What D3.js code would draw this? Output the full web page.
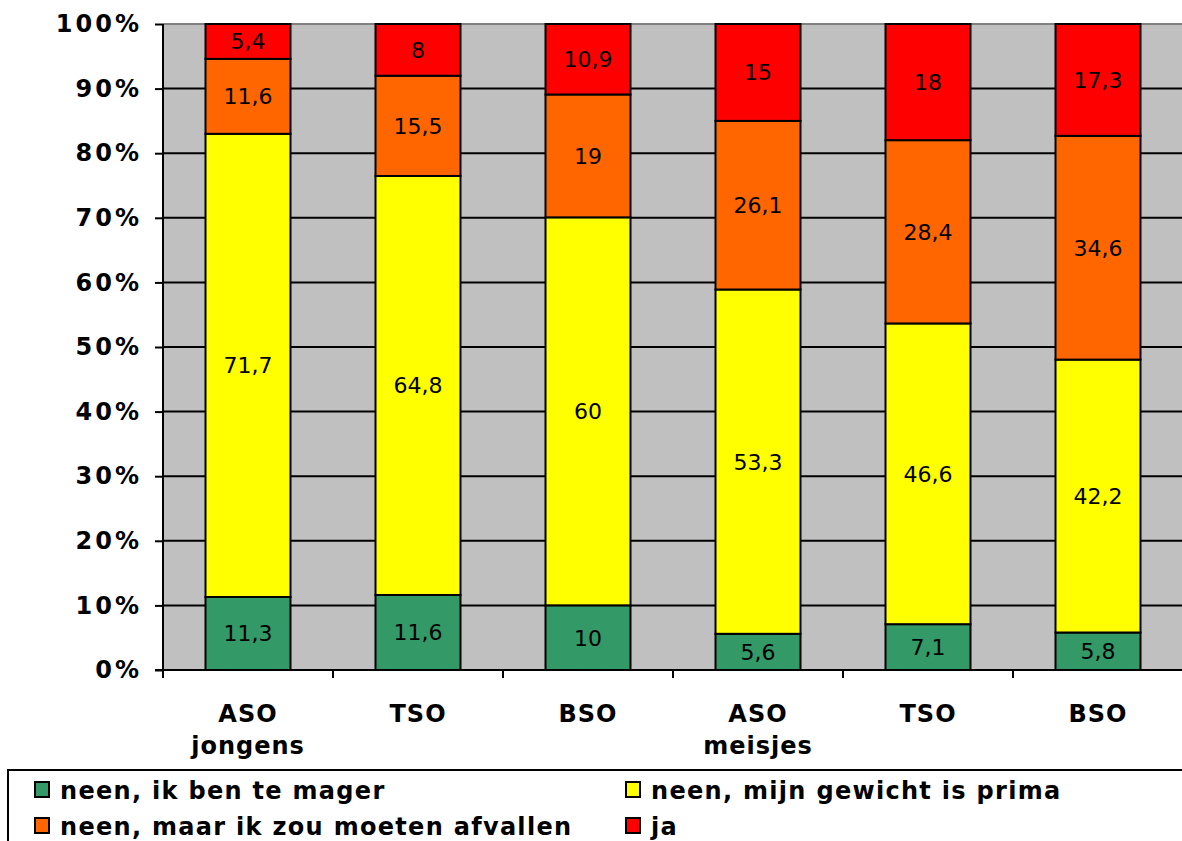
<!DOCTYPE html>
<html>
<head>
<meta charset="utf-8">
<script src="https://cdn.jsdelivr.net/npm/d3@7"></script>
<style>
  html, body { margin: 0; padding: 0; background: #fff; }
  svg { display: block; }
  text { font-family: "DejaVu Sans", Verdana, sans-serif; }
</style>
</head>
<body>
<svg id="chart" width="1182" height="841"></svg>
<script>
// School type per group, with the second line naming the group
const categories = ["ASO jongens", "TSO j", "BSO j", "ASO meisjes", "TSO m", "BSO m"];
const categoryLines = [["ASO", "jongens"], ["TSO"], ["BSO"], ["ASO", "meisjes"], ["TSO"], ["BSO"]];

// Answers (percent of pupils) to "Vind je dat je moet afvallen?"
const seriesNames = ["neen, ik ben te mager", "neen, mijn gewicht is prima", "neen, maar ik zou moeten afvallen", "ja"];
const teMager   = [11.3, 11.6, 10, 5.6, 7.1, 5.8];
const prima     = [71.7, 64.8, 60, 53.3, 46.6, 42.2];
const afvallen  = [11.6, 15.5, 19, 26.1, 28.4, 34.6];
const ja        = [5.4, 8, 10.9, 15, 18, 17.3];
const yTicks    = [0, 10, 20, 30, 40, 50, 60, 70, 80, 90, 100];

const colors = ["#339966", "#FFFF00", "#FF6600", "#FF0000"];
const seriesValues = [teMager, prima, afvallen, ja];

const svg = d3.select("#chart");
const plot = { left: 163, top: 24, right: 1183, bottom: 670 };

// Rows normalised to 100% (stacked percentage columns)
const rows = categories.map((c, i) => {
  const row = { cat: c };
  const total = d3.sum(seriesValues, s => s[i]);
  seriesValues.forEach((s, k) => { row["s" + k] = s[i] / total * 100; row["v" + k] = s[i]; });
  return row;
});
const keys = seriesValues.map((s, k) => "s" + k);
const stacked = d3.stack().keys(keys)(rows);

const x = d3.scaleBand().domain(categories).range([plot.left, plot.right]).paddingInner(0.5).paddingOuter(0.25);
const y = d3.scaleLinear().domain([0, 100]).range([plot.bottom, plot.top]);

// Plot background
svg.append("rect")
  .attr("x", plot.left).attr("y", plot.top)
  .attr("width", plot.right - plot.left).attr("height", plot.bottom - plot.top)
  .attr("fill", "#C0C0C0");

// Horizontal gridlines
svg.append("g").selectAll("line")
  .data(yTicks.filter(t => t > 0 && t < 100))
  .join("line")
  .attr("x1", plot.left).attr("x2", plot.right)
  .attr("y1", d => y(d)).attr("y2", d => y(d))
  .attr("stroke", "#000").attr("stroke-width", 2);

// Top border of plot area
svg.append("line")
  .attr("x1", plot.left).attr("x2", plot.right)
  .attr("y1", plot.top).attr("y2", plot.top)
  .attr("stroke", "#808080").attr("stroke-width", 2);

// Stacked columns
const layers = svg.append("g").selectAll("g")
  .data(stacked)
  .join("g")
  .attr("fill", (d, i) => colors[i]);

layers.selectAll("rect")
  .data(d => d)
  .join("rect")
  .attr("x", d => x(d.data.cat))
  .attr("width", x.bandwidth())
  .attr("y", d => y(d[1]))
  .attr("height", d => y(d[0]) - y(d[1]))
  .attr("stroke", "#000")
  .attr("stroke-width", 2);

// Value labels in the segments
const fmt = v => String(v).replace(".", ",");
stacked.forEach((layer, k) => {
  svg.append("g").selectAll("text")
    .data(layer)
    .join("text")
    .attr("x", d => x(d.data.cat) + x.bandwidth() / 2)
    .attr("y", d => (y(d[0]) + y(d[1])) / 2)
    .attr("dy", "0.36em")
    .attr("text-anchor", "middle")
    .attr("font-size", 22)
    .attr("fill", "#000")
    .text(d => fmt(d.data["v" + k]));
});

// Y axis
const yAxis = svg.append("g")
  .attr("transform", `translate(${plot.left},0)`)
  .call(d3.axisLeft(y).tickValues(yTicks).tickSize(8).tickPadding(13).tickFormat(d => d + "%"));
yAxis.select(".domain").attr("stroke", "#000").attr("stroke-width", 2).attr("d", `M0,${plot.top}V${plot.bottom}`);
yAxis.selectAll(".tick line").attr("stroke", "#000").attr("stroke-width", 2);
yAxis.selectAll(".tick text")
  .attr("font-family", "'DejaVu Sans', Verdana, sans-serif")
  .attr("font-size", 24).attr("font-weight", "bold").attr("fill", "#000")
  .attr("letter-spacing", 3);

// X axis line and boundary ticks
svg.append("line")
  .attr("x1", plot.left - 8).attr("x2", plot.right)
  .attr("y1", plot.bottom).attr("y2", plot.bottom)
  .attr("stroke", "#000").attr("stroke-width", 2);
const step = x.step();
svg.append("g").selectAll("line")
  .data(d3.range(categories.length + 1))
  .join("line")
  .attr("x1", i => plot.left + i * step).attr("x2", i => plot.left + i * step)
  .attr("y1", plot.bottom).attr("y2", plot.bottom + 8)
  .attr("stroke", "#000").attr("stroke-width", 2);

// Category labels
const catLabels = svg.append("g").selectAll("text")
  .data(categories)
  .join("text")
  .attr("x", d => x(d) + x.bandwidth() / 2)
  .attr("y", 722)
  .attr("text-anchor", "middle")
  .attr("font-size", 24)
  .attr("font-weight", "bold")
  .attr("letter-spacing", 1)
  .attr("fill", "#000");
catLabels.each(function(d, i) {
  const t = d3.select(this);
  categoryLines[i].forEach((line, j) => {
    t.append("tspan")
      .attr("x", x(d) + x.bandwidth() / 2)
      .attr("dy", j === 0 ? 0 : 32)
      .text(line);
  });
});

// Legend
const legend = svg.append("g");
legend.append("rect")
  .attr("x", 8).attr("y", 770)
  .attr("width", 1200).attr("height", 100)
  .attr("fill", "#fff").attr("stroke", "#000").attr("stroke-width", 2);

const legendPos = [
  { x: 35, y: 782 },
  { x: 626, y: 782 },
  { x: 35, y: 818 },
  { x: 626, y: 818 }
];
seriesNames.forEach((name, k) => {
  const p = legendPos[k];
  legend.append("rect")
    .attr("x", p.x).attr("y", p.y).attr("width", 14).attr("height", 15)
    .attr("fill", colors[k]).attr("stroke", "#000").attr("stroke-width", 2);
  legend.append("text")
    .attr("x", p.x + 25).attr("y", p.y + 17)
    .attr("font-size", 24).attr("font-weight", "bold").attr("fill", "#000")
    .attr("letter-spacing", 1.3)
    .text(name);
});
</script>
</body>
</html>
